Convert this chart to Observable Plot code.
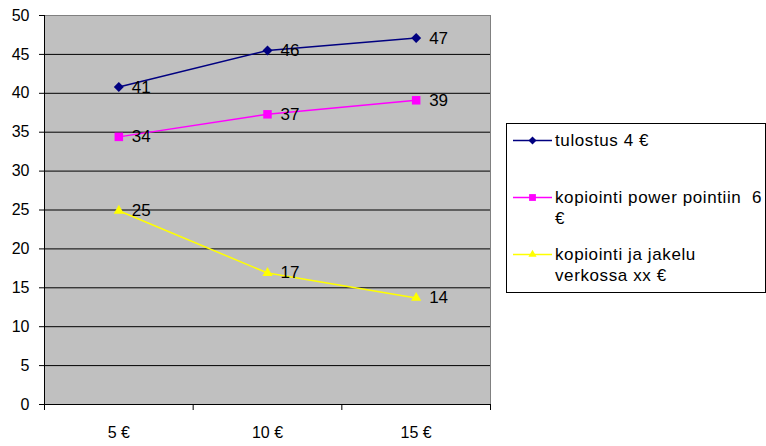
<!DOCTYPE html>
<html><head><meta charset="utf-8">
<script src="https://cdn.jsdelivr.net/npm/d3@7"></script>
<script src="https://cdn.jsdelivr.net/npm/@observablehq/plot@0.6"></script>
<style>
body{margin:0;background:#fff;font-family:"Liberation Sans",Arial,sans-serif;}
#wrap{position:relative;width:766px;height:446px;overflow:hidden;}
#legend{position:absolute;left:506px;top:123px;width:260px;height:170px;border:1px solid #000;background:#fff;box-sizing:border-box;padding-top:6px;}
.entry{position:relative;height:57px;font-size:17px;letter-spacing:0.6px;line-height:21px;color:#000;}
.entry svg{position:absolute;left:6px;top:0;}
.entry .txt{position:absolute;left:48px;top:0;white-space:pre;}
</style></head><body><div id="wrap"></div>
<script>
const categories = ["5 €", "10 €", "15 €"];
const seriesNames = ["tulostus 4 €", "kopiointi power pointiin  6 €", "kopiointi ja jakelu verkossa xx €"];
const legendLines = [["tulostus 4 €"], ["kopiointi power pointiin  6", "€"], ["kopiointi ja jakelu", "verkossa xx €"]];
const tulostus = [40.8, 45.5, 47.1];
const powerPoint = [34.4, 37.3, 39.1];
const verkossa = [24.9, 16.9, 13.7];
const pointLabels = [[41, 46, 47], [34, 37, 39], [25, 17, 14]];
const colors = ["#000080", "#FF00FF", "#FFFF00"];
const symbols = ["diamond2", "square", "triangle"];
const symbolR = [4.5, 4.8, 3.8];
const yTicks = [0, 5, 10, 15, 20, 25, 30, 35, 40, 45, 50];
const xPositions = [1, 2, 3];
const xEdges = [0.5, 1.5, 2.5, 3.5];

const seriesValues = [tulostus, powerPoint, verkossa];
const rows = [];
seriesValues.forEach((vals, s) => vals.forEach((v, i) => rows.push({series: seriesNames[s], s, i: xPositions[i], value: v, label: pointLabels[s][i]})));

const marks = [
  Plot.frame({fill: "#C0C0C0", stroke: "#808080"}),
  Plot.gridY(yTicks.filter(t => t > yTicks[0] && t < yTicks[yTicks.length - 1]), {stroke: "#000", strokeOpacity: 1}),
  Plot.ruleY([yTicks[0]], {stroke: "#000"}),
  Plot.ruleX([xEdges[0]], {stroke: "#000"}),
  Plot.axisY(yTicks, {tickSize: 5, tickPadding: 10, stroke: "#000", fontSize: 16, tickFormat: d => d, label: null}),
  Plot.axisX(xEdges, {tickSize: 6, stroke: "#000", tickFormat: () => "", label: null}),
  Plot.axisX(xPositions, {tickSize: 0, tickPadding: 22, fontSize: 16, tickFormat: i => categories[i - 1], label: null}),
];
seriesNames.forEach((name, s) => {
  const d = rows.filter(r => r.s === s);
  marks.push(Plot.line(d, {x: "i", y: "value", stroke: colors[s], strokeWidth: 1.5}));
});
seriesNames.forEach((name, s) => {
  const d = rows.filter(r => r.s === s);
  marks.push(Plot.dot(d, {x: "i", y: "value", symbol: symbols[s], r: symbolR[s], fill: colors[s], stroke: "none"}));
  marks.push(Plot.text(d, {x: "i", y: "value", text: "label", dx: 13, textAnchor: "start", fill: "#000", fontSize: 17}));
});

const chart = Plot.plot({
  width: 766, height: 446,
  marginLeft: 44, marginRight: 276, marginTop: 15, marginBottom: 42,
  style: {fontFamily: "'Liberation Sans', Arial, sans-serif", fontSize: "16px", color: "#000", background: "transparent"},
  x: {domain: [xEdges[0], xEdges[xEdges.length - 1]], axis: null, label: null},
  y: {domain: [yTicks[0], yTicks[yTicks.length - 1]], axis: null, label: null},
  marks
});
const wrap = document.getElementById("wrap");
wrap.appendChild(chart);

// Legend
const legend = document.createElement("div");
legend.id = "legend";
const d3Symbols = {diamond2: d3.symbolDiamond2, square: d3.symbolSquare, triangle: d3.symbolTriangle};
seriesNames.forEach((name, s) => {
  const e = document.createElement("div");
  e.className = "entry";
  const size = symbolR[s] * symbolR[s] * Math.PI;
  const path = d3.symbol(d3Symbols[symbols[s]], size)();
  e.innerHTML = `<svg width="40" height="21" viewBox="0 0 40 21"><line x1="0" x2="39" y1="10.5" y2="10.5" stroke="${colors[s]}" stroke-width="1.5"/><path transform="translate(19.5,10.5) scale(0.8)" d="${path}" fill="${colors[s]}"/></svg><div class="txt">${legendLines[s].join("\n")}</div>`;
  legend.appendChild(e);
});
wrap.appendChild(legend);
</script></body></html>
